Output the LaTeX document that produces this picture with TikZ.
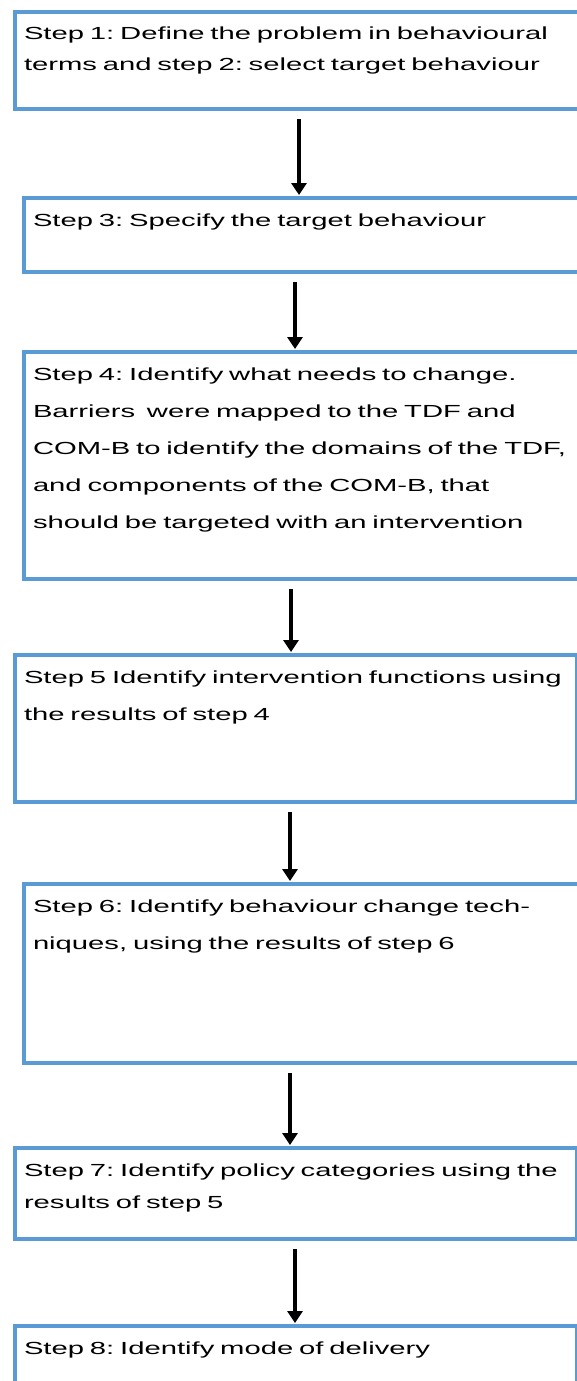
\documentclass[tikz,border=0pt]{standalone}
\usepackage{fontspec}
\usetikzlibrary{arrows.meta}
\newfontfamily\stepfont[FakeStretch=1.67]{Liberation Sans}
\newcommand\stepsize[1]{\fontsize{17.5pt}{#1pt}\selectfont\frenchspacing}
\definecolor{stepblue}{HTML}{5B9BD5}
\tikzset{
  stepbox/.style={draw=stepblue, line width=4pt, anchor=north west,
    inner xsep=9pt, inner ysep=0pt, align=left, text height=28pt},
  flow/.style={-{Triangle[width=15pt,length=12pt]}, line width=3.2pt,
    shorten <=8pt, shorten >=1pt}
}

\begin{document}
\begin{tikzpicture}[x=1pt, y=-1pt]
% 1. 画面大小
\useasboundingbox (0, 0) rectangle (577, 1381);
\clip (0, 0) rectangle (577, 1381);

% 2. 各个步骤的方框
\node[stepbox, font=\stepfont\stepsize{31}, text width=578, text depth=69] (s1) at (13, 10)
  {Step 1: Define the problem in behavioural\\terms and step 2: select target behaviour};
\node[stepbox, font=\stepfont\stepsize{37}, text width=570, text depth=46] (s2) at (22, 196)
  {Step 3: Specify the target behaviour};
\node[stepbox, font=\stepfont\stepsize{37}, text width=570, text depth=199] (s3) at (22, 350)
  {Step 4: Identify what needs to change.\\
   Barriers\ \ were mapped to the TDF and\\
   COM-B to identify the domains of the TDF,\\
   and components of the COM-B, that\\
   should be targeted with an intervention};
\node[stepbox, font=\stepfont\stepsize{37}, text width=544, text depth=119] (s4) at (13, 653)
  {Step 5 Identify intervention functions using\\the results of step 4};
\node[stepbox, font=\stepfont\stepsize{37}, text width=570, text depth=151] (s5) at (22, 882)
  {Step 6: Identify behaviour change tech-\\niques, using the results of step 6};
\node[stepbox, font=\stepfont\stepsize{32}, text width=544, text depth=63] (s6) at (13, 1146)
  {Step 7: Identify policy categories using the\\results of step 5};
\node[stepbox, font=\stepfont\stepsize{37}, text width=544, text depth=60] (s7) at (13, 1324)
  {Step 8: Identify mode of delivery};

% 3. 箭头
\foreach \a/\b/\x in {s1/s2/299, s2/s3/295, s3/s4/291, s4/s5/290, s5/s6/290, s6/s7/295}
  {\coordinate (ax) at (\x, 0);
   \draw[flow] (\a.south -| ax) -- (\b.north -| ax);
  }
\end{tikzpicture}
\end{document}
